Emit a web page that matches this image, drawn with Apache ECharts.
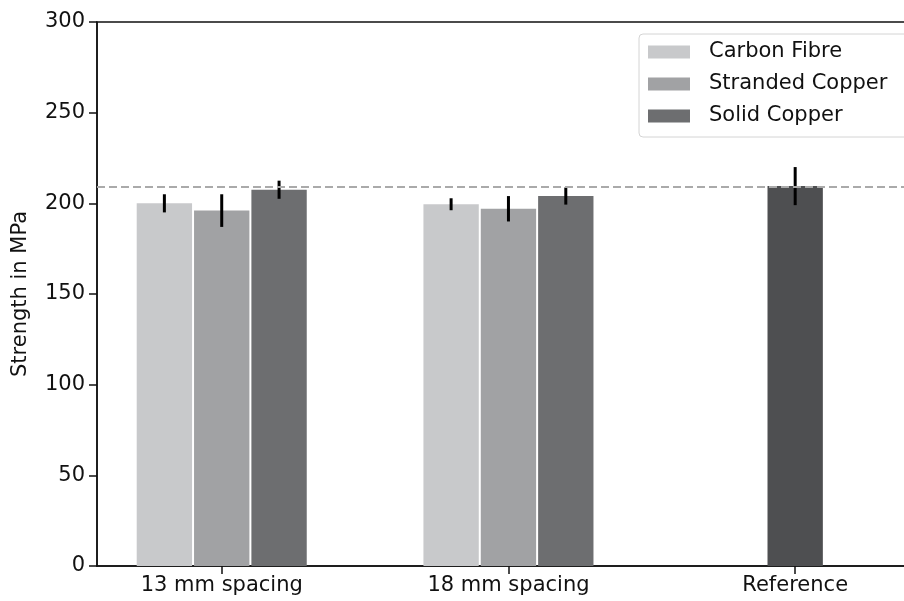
<!DOCTYPE html>
<html>
<head>
<meta charset="utf-8">
<script src="https://cdn.jsdelivr.net/npm/echarts@6/dist/echarts.min.js"></script>
<style>
  html, body { margin: 0; padding: 0; background: #fff; }
  #chart { width: 904px; height: 601px; }
</style>
</head>
<body>
<div id="chart"></div>
<script>
const chart = echarts.init(document.getElementById('chart'), null, { renderer: 'canvas' });

// data
const groups = ['13 mm spacing', '18 mm spacing', 'Reference'];
const materials = ['Carbon Fibre', 'Stranded Copper', 'Solid Copper'];
const carbonFibre = [200, 199.5];
const carbonFibreErr = [5, 3.3];
const strandedCopper = [196, 197];
const strandedCopperErr = [9, 7];
const solidCopper = [207.5, 204];
const solidCopperErr = [5, 4.7];
const referenceValue = [209.5];
const referenceErr = [10.5];
const referenceLine = 209;
const yTicks = [0, 50, 100, 150, 200, 250, 300];

const FONT = 'DejaVu Sans';
const BAR_STEP = 0.2; // bar width in x units, like matplotlib

// one custom series per material: bar + error line
function barSeries(name, values, errors, firstGroup, slot, color) {
    return {
        name: name,
        type: 'custom',
        itemStyle: { color: color },
        data: values.map((v, i) => [firstGroup + i, v, errors[i]]),
        renderItem: function (params, api) {
            const step = api.size([BAR_STEP, 0])[0];
            const base = api.coord([api.value(0), 0]);
            const top = api.coord([api.value(0), api.value(1)]);
            const eTop = api.coord([api.value(0), api.value(1) + api.value(2)]);
            const eBot = api.coord([api.value(0), api.value(1) - api.value(2)]);
            const cx = base[0] + slot * step;
            const w = step - 2;
            return {
                type: 'group',
                children: [
                    {
                        type: 'rect',
                        shape: { x: cx - w / 2, y: top[1], width: w, height: base[1] - top[1] },
                        style: { fill: api.visual('color') }
                    },
                    {
                        type: 'line',
                        shape: { x1: cx, y1: eTop[1], x2: cx, y2: eBot[1] },
                        style: { stroke: '#000', lineWidth: 3 }
                    }
                ]
            };
        }
    };
}

chart.setOption({
    animation: false,
    textStyle: { fontFamily: FONT },
    grid: {
        left: 97, top: 22, right: -3, bottom: 35,
        show: true, borderColor: '#111', borderWidth: 1.5,
        outerBoundsMode: 'none'
    },
    legend: {
        data: materials,
        orient: 'vertical',
        left: 639, top: 34,
        icon: 'rect',
        itemWidth: 42, itemHeight: 13, itemGap: 10,
        padding: [7, 40, 10, 9],
        borderColor: '#d4d4d4', borderWidth: 1, borderRadius: 4,
        backgroundColor: 'rgba(255,255,255,0.8)',
        textStyle: { fontSize: 21, lineHeight: 22, color: '#111', fontFamily: FONT, padding: [0, 0, 0, 14] }
    },
    xAxis: {
        type: 'value',
        min: -0.435, max: 2.39,
        splitLine: { show: false },
        axisLine: { show: true, onZero: false, lineStyle: { color: '#111', width: 1.5 } },
        axisTick: { show: true, customValues: [0, 1, 2], length: 8, lineStyle: { color: '#111', width: 1.5 } },
        axisLabel: {
            customValues: [0, 1, 2],
            formatter: v => groups[Math.round(v)],
            fontSize: 21, color: '#111', margin: 9, fontFamily: FONT
        }
    },
    yAxis: {
        type: 'value',
        min: yTicks[0], max: yTicks[yTicks.length - 1], interval: 50,
        name: 'Strength in MPa',
        nameLocation: 'middle',
        nameGap: 66,
        nameTextStyle: { fontSize: 21, color: '#111', fontFamily: FONT },
        splitLine: { show: false },
        axisLine: { show: true, onZero: false, lineStyle: { color: '#111', width: 1.5 } },
        axisTick: { show: true, length: 8, lineStyle: { color: '#111', width: 1.5 } },
        axisLabel: { fontSize: 21, color: '#111', margin: 12, fontFamily: FONT }
    },
    series: [
        {
            name: 'ref-line',
            type: 'line',
            data: [],
            z: 1,
            markLine: {
                silent: true,
                symbol: 'none',
                label: { show: false },
                lineStyle: { color: '#aaaaaa', type: [8, 4], width: 2 },
                data: [{ yAxis: referenceLine }]
            }
        },
        barSeries(materials[0], carbonFibre, carbonFibreErr, 0, -1, '#c8c9cb'),
        barSeries(materials[1], strandedCopper, strandedCopperErr, 0, 0, '#a1a2a4'),
        barSeries(materials[2], solidCopper, solidCopperErr, 0, 1, '#6d6e70'),
        barSeries(groups[2], referenceValue, referenceErr, 2, 0, '#4e4f51')
    ]
});
</script>
</body>
</html>
